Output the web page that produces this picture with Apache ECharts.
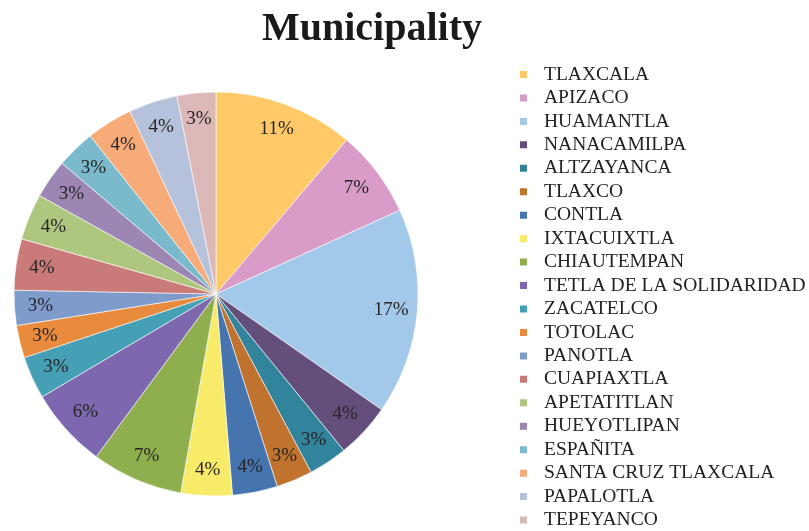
<!DOCTYPE html>
<html>
<head>
<meta charset="utf-8">
<script src="https://cdn.jsdelivr.net/npm/echarts@6/dist/echarts.min.js"></script>
<style>html,body{margin:0;padding:0;background:#fff}#c{width:809px;height:531px}</style>
</head>
<body>
<div id="c"></div>
<script>
const categories = ['TLAXCALA','APIZACO','HUAMANTLA','NANACAMILPA','ALTZAYANCA','TLAXCO','CONTLA','IXTACUIXTLA','CHIAUTEMPAN','TETLA DE LA SOLIDARIDAD','ZACATELCO','TOTOLAC','PANOTLA','CUAPIAXTLA','APETATITLAN','HUEYOTLIPAN','ESPAÑITA','SANTA CRUZ TLAXCALA','PAPALOTLA','TEPEYANCO'];
const shares = [11.2, 7.0, 16.5, 4.4, 3.1, 2.9, 3.6, 4.1, 7.3, 6.4, 3.4, 2.6, 2.8, 4.1, 3.7, 3.1, 3.1, 3.7, 3.9, 3.1];
const colors = ['#FEC966','#D99BC8','#A2C8EA','#644E7C','#31849B','#C0722F','#4674AE','#F9EB6A','#8FAE4E','#7D67AE','#45A0B5','#E98B3D','#7F9BCB','#CB7A7A','#AFC67F','#9C86B3','#7BB9CD','#F6AB79','#B6C2DC','#DDB8B8'];

const data = categories.map((n, i) => ({ name: n, value: shares[i] }));
const chart = echarts.init(document.getElementById('c'));
const serif = '"Liberation Serif","Times New Roman",serif';
chart.setOption({
  animation: false,
  color: colors,
  title: {
    text: 'Municipality',
    left: 257, top: 5,
    textStyle: { fontFamily: serif, fontWeight: 'bold', fontSize: 40, color: '#1a1a1a' }
  },
  legend: {
    type: 'plain',
    orient: 'vertical',
    left: 518, top: 64.5,
    height: 466,
    padding: 0,
    icon: 'rect',
    itemWidth: 9, itemHeight: 9,
    itemGap: 3.45,
    data: categories,
    textStyle: { fontFamily: serif, fontSize: 19.5, color: '#222', padding: [0, 0, 0, 11] }
  },
  series: [
    {
      type: 'pie',
      center: [216, 294],
      radius: [0, 202],
      startAngle: 90,
      clockwise: true,
      data: data,
      label: { show: false },
      labelLine: { show: false },
      itemStyle: { borderColor: '#fff', borderWidth: 0.6 },
      silent: true
    },
    {
      type: 'pie',
      center: [216, 294],
      radius: [144, 202],
      startAngle: 90,
      clockwise: true,
      data: data,
      silent: true,
      itemStyle: { color: 'rgba(0,0,0,0)' },
      labelLine: { show: false },
      label: {
        show: true,
        position: 'inside',
        fontFamily: serif,
        fontSize: 19,
        color: '#262626',
        formatter: p => Math.round(p.percent) + '%'
      }
    }
  ]
});
</script>
</body>
</html>
